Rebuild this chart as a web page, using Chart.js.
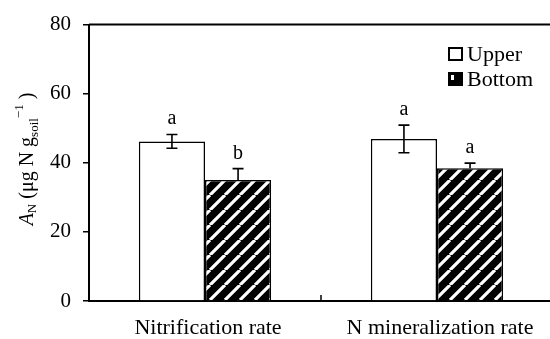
<!DOCTYPE html>
<html>
<head>
<meta charset="utf-8">
<script src="https://cdn.jsdelivr.net/npm/chart.js@4.4.0/dist/chart.umd.min.js"></script>
<style>
  html, body { margin: 0; padding: 0; background: #fff; overflow: hidden; }
  #wrap { width: 556px; height: 339px; }
</style>
</head>
<body>
<div id="wrap"><canvas id="myChart"></canvas></div>
<script>
// data
const categorias = ['Nitrification rate', 'N mineralization rate'];
const upper = [46.2, 46.9];
const upperErr = [2.0, 4.0];
const bottom = [35.0, 38.4];
const bottomErr = [3.3, 1.5];
const upperLetras = ['a', 'a'];
const bottomLetras = ['b', 'a'];
const yTicks = [0, 20, 40, 60, 80];

const serif = '"Liberation Serif", "DejaVu Serif", serif';

// black with white diagonal stripes
function hachura() {
    const c = document.createElement('canvas');
    c.width = 15; c.height = 15;
    const g = c.getContext('2d');
    g.fillStyle = '#000';
    g.fillRect(0, 0, 15, 15);
    g.strokeStyle = '#fff';
    g.lineWidth = 3.2;
    g.beginPath();
    g.moveTo(-15, 15); g.lineTo(0, 0);
    g.moveTo(0, 15); g.lineTo(15, 0);
    g.moveTo(15, 15); g.lineTo(30, 0);
    g.stroke();
    return g.createPattern(c, 'repeat');
}
const listrado = hachura();

const extras = {
    id: 'extras',
    afterDatasetsDraw(chart) {
        const ctx = chart.ctx;
        const area = chart.chartArea;
        const y = chart.scales.y;
        const x = chart.scales.x;
        ctx.save();

        // top frame line
        ctx.strokeStyle = '#000';
        ctx.lineWidth = 2;
        ctx.beginPath();
        ctx.moveTo(area.left, area.top);
        ctx.lineTo(area.right + 5, area.top);
        ctx.stroke();

        // inner tick between the categories
        const meio = (x.getPixelForValue(0) + x.getPixelForValue(1)) / 2;
        ctx.lineWidth = 1.5;
        ctx.beginPath();
        ctx.moveTo(meio, area.bottom);
        ctx.lineTo(meio, area.bottom - 6);
        ctx.stroke();

        // error bars and letters (bottom series only shows the plus side)
        const errs = [upperErr, bottomErr];
        const letras = [upperLetras, bottomLetras];
        chart.data.datasets.forEach((ds, di) => {
            const meta = chart.getDatasetMeta(di);
            meta.data.forEach((bar, i) => {
                const v = ds.data[i];
                const e = errs[di][i];
                const yt = y.getPixelForValue(v + e);
                const yb = di === 0 ? y.getPixelForValue(v - e) : y.getPixelForValue(v);
                ctx.strokeStyle = '#000';
                ctx.lineWidth = 1.6;
                ctx.beginPath();
                ctx.moveTo(bar.x, yt); ctx.lineTo(bar.x, yb);
                ctx.moveTo(bar.x - 5.5, yt); ctx.lineTo(bar.x + 5.5, yt);
                if (di === 0) { ctx.moveTo(bar.x - 5.5, yb); ctx.lineTo(bar.x + 5.5, yb); }
                ctx.stroke();
                ctx.fillStyle = '#000';
                ctx.font = '20px ' + serif;
                ctx.textAlign = 'center';
                ctx.textBaseline = 'alphabetic';
                ctx.fillText(letras[di][i], bar.x, yt - 10);
            });
        });

        // legend
        const leg = ['Upper', 'Bottom'];
        leg.forEach((l, i) => {
            const cy = 54 + i * 25;
            ctx.fillStyle = i === 0 ? '#fff' : '#000';
            ctx.fillRect(449, cy - 6, 13, 12);
            if (i === 1) {
                ctx.fillStyle = '#fff';
                ctx.fillRect(451, cy - 4, 3, 5);
            }
            ctx.strokeStyle = '#000';
            ctx.lineWidth = 2;
            ctx.strokeRect(449, cy - 6, 13, 12);
            ctx.fillStyle = '#000';
            ctx.font = '22px ' + serif;
            ctx.textAlign = 'left';
            ctx.textBaseline = 'middle';
            ctx.fillText(l, 467, cy + 1);
        });

        // y axis title  A_N (µg N g_soil^-1)
        const partes = [
            { t: 'A', f: 'italic 20px ' + serif, dy: 0 },
            { t: 'N', f: '13px ' + serif, dy: 3 },
            { t: ' (μg N g', f: '20px ' + serif, dy: 0 },
            { t: 'soil', f: '13px ' + serif, dy: 5 },
            { t: '−1', f: '13px ' + serif, dy: -10 },
            { t: ' )', f: '20px ' + serif, dy: 0 }
        ];
        let total = 0;
        partes.forEach(p => { ctx.font = p.f; p.w = ctx.measureText(p.t).width; total += p.w; });
        ctx.translate(33, 159 + total / 2);
        ctx.rotate(-Math.PI / 2);
        ctx.textAlign = 'left';
        ctx.textBaseline = 'alphabetic';
        ctx.fillStyle = '#000';
        let px = 0;
        partes.forEach(p => {
            ctx.font = p.f;
            ctx.fillText(p.t, px, p.dy);
            px += p.w;
        });
        ctx.restore();
    }
};

const ctx = document.getElementById('myChart').getContext('2d');
const myChart = new Chart(ctx, {
    type: 'bar',
    data: {
        labels: categorias,
        datasets: [{
            label: 'Upper',
            data: upper,
            backgroundColor: '#fff',
            borderColor: '#000',
            borderWidth: 1.5,
            categoryPercentage: 0.57,
            barPercentage: 1.0
        }, {
            label: 'Bottom',
            data: bottom,
            backgroundColor: listrado,
            borderColor: '#000',
            borderWidth: 1.5,
            categoryPercentage: 0.57,
            barPercentage: 1.0
        }]
    },
    options: {
        responsive: true,
        maintainAspectRatio: false,
        animation: false,
        layout: { padding: { top: 22, right: 3, left: 0, bottom: 0 } },
        plugins: {
            legend: { display: false },
            tooltip: { enabled: false }
        },
        scales: {
            x: {
                grid: { display: true, drawOnChartArea: false, drawTicks: false },
                border: { color: '#000', width: 2 },
                ticks: { color: '#000', font: { family: serif, size: 22 }, padding: 14, labelOffset: 3 },
                afterFit(s) { s.height = 38; }
            },
            y: {
                min: 0,
                max: 80,
                afterBuildTicks(s) { s.ticks = yTicks.map(v => ({ value: v })); },
                grid: { drawOnChartArea: false, drawTicks: true, tickLength: 6, color: '#000', lineWidth: 1.5 },
                border: { color: '#000', width: 2 },
                ticks: { color: '#000', font: { family: serif, size: 21 }, padding: 12 },
                afterFit(s) { s.width = 89; }
            }
        }
    },
    plugins: [extras]
});
</script>
</body>
</html>
